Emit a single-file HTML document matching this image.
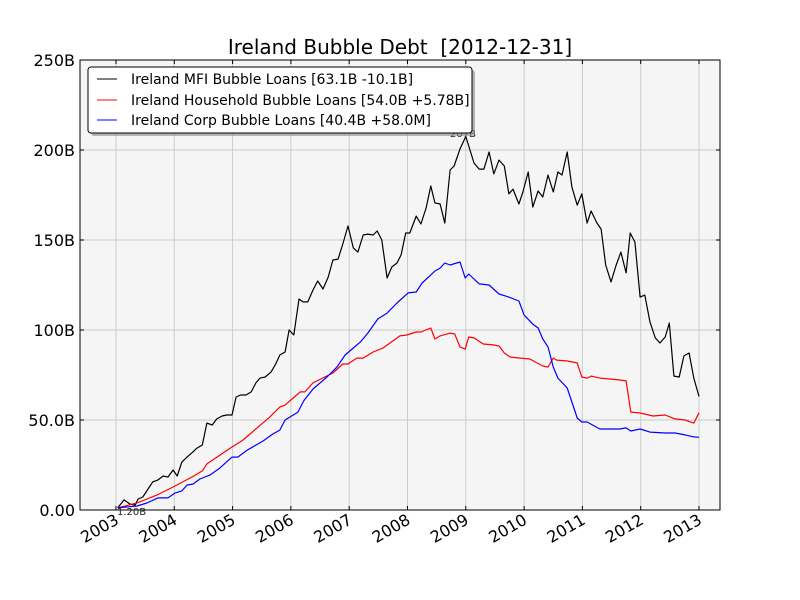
<!DOCTYPE html>
<html><head><meta charset="utf-8"><style>
body{margin:0;background:#fff;}
svg{display:block;font-family:"DejaVu Sans","Liberation Sans",sans-serif;}
</style></head><body>
<svg id="chart" width="800" height="600">
<rect x="0" y="0" width="800" height="600" fill="#fff"/>
<text x="400" y="54" font-size="20" text-anchor="middle">Ireland Bubble Debt&#160; [2012-12-31]</text>
<rect x="80" y="60" width="640" height="450" fill="#f5f5f5"/>
<g id="grid"></g><g id="series"></g>
<rect x="80" y="60" width="640" height="450" fill="none" stroke="#000" stroke-width="1"/>
<g id="ticks"></g>
<text x="450" y="137" font-size="10" fill="#222">207B</text>
<text x="117" y="515" font-size="10" fill="#222">1.20B</text>
<g>
<rect x="91" y="70" width="384" height="66" rx="3" fill="#888" opacity="0.6"/>
<rect x="88" y="67" width="384" height="66" rx="3" fill="#fff" stroke="#000" stroke-width="1"/>
<line x1="97" y1="79" x2="117" y2="79" stroke="#000"/>
<text x="131" y="84" font-size="14">Ireland MFI Bubble Loans [63.1B -10.1B]</text>
<line x1="97" y1="100" x2="117" y2="100" stroke="#f00"/>
<text x="131" y="105" font-size="14">Ireland Household Bubble Loans [54.0B +5.78B]</text>
<line x1="97" y1="120" x2="117" y2="120" stroke="#00f"/>
<text x="131" y="125" font-size="14">Ireland Corp Bubble Loans [40.4B +58.0M]</text>
</g>
</svg>
<script>
const xTicks=[2003,2004,2005,2006,2007,2008,2009,2010,2011,2012,2013];
const yTicks=[0,50,100,150,200,250];
const yTickLabels=["0.00","50.0B","100B","150B","200B","250B"];
const mfiDates=[2003.03,2003.14,2003.24,2003.33,2003.38,2003.46,2003.63,2003.72,2003.81,2003.89,2003.98,2004.05,2004.13,2004.22,2004.30,2004.39,2004.48,2004.56,2004.65,2004.73,2004.82,2004.90,2004.99,2005.06,2005.14,2005.23,2005.32,2005.40,2005.47,2005.56,2005.66,2005.74,2005.81,2005.90,2005.97,2006.05,2006.14,2006.21,2006.29,2006.38,2006.46,2006.55,2006.64,2006.72,2006.81,2006.89,2006.98,2007.07,2007.15,2007.24,2007.32,2007.41,2007.48,2007.56,2007.65,2007.73,2007.82,2007.89,2007.97,2008.04,2008.15,2008.23,2008.32,2008.40,2008.47,2008.56,2008.64,2008.73,2008.80,2008.90,2009.00,2009.14,2009.23,2009.31,2009.40,2009.48,2009.57,2009.66,2009.74,2009.81,2009.91,2009.98,2010.07,2010.15,2010.24,2010.32,2010.41,2010.50,2010.58,2010.65,2010.74,2010.82,2010.91,2010.99,2011.08,2011.15,2011.25,2011.32,2011.40,2011.49,2011.58,2011.66,2011.75,2011.82,2011.90,2011.99,2012.07,2012.16,2012.25,2012.33,2012.42,2012.49,2012.57,2012.66,2012.74,2012.83,2012.91,2013.00];
const mfiValues=[1.2,5.6,3.3,2.8,6.1,7.2,15.6,16.7,18.9,18.3,22.2,18.9,26.7,29.4,31.7,34.4,36.1,48.3,47.2,50.6,52.2,52.8,52.8,62.8,63.9,63.9,65.6,70.6,73.3,73.9,76.7,81.1,86.1,87.8,100,97.2,117.2,115.6,115.6,122.2,127.2,122.8,129.4,138.9,139.4,147.8,157.8,145.6,143.3,152.8,153.3,152.8,155,150,128.9,135,137.2,141.7,153.9,153.9,163.3,158.9,167.8,180,170.6,170,159.4,188.9,191.1,200.6,207.5,192.8,189.4,189.4,198.9,186.7,194.4,191.1,175.6,178.3,170,176.7,187.8,168.3,177.2,173.9,186.1,176.7,187.8,186.1,198.9,179.4,169.4,175.6,159.4,166.1,159.4,156.1,136.1,126.7,136.1,143.3,131.7,153.9,148.9,118.3,119.4,104.4,95.6,92.8,96.1,103.9,74.4,73.9,85.6,87.2,73.3,63.1];
const hhDates=[2003.03,2003.36,2003.70,2003.98,2004.30,2004.48,2004.56,2004.99,2005.18,2005.42,2005.64,2005.81,2005.90,2006.04,2006.16,2006.24,2006.38,2006.58,2006.72,2006.89,2006.98,2007.13,2007.24,2007.41,2007.58,2007.87,2007.99,2008.15,2008.23,2008.40,2008.47,2008.56,2008.73,2008.81,2008.90,2008.99,2009.05,2009.14,2009.30,2009.47,2009.57,2009.66,2009.76,2009.93,2010.10,2010.22,2010.32,2010.41,2010.50,2010.56,2010.74,2010.91,2010.99,2011.08,2011.15,2011.30,2011.47,2011.64,2011.75,2011.83,2011.99,2012.21,2012.42,2012.59,2012.76,2012.91,2013.00];
const hhValues=[1.2,3.9,8.3,12.8,18.3,21.7,25.6,35,38.9,45.6,51.7,57.2,58.3,62.2,65.6,65.6,70.6,73.9,76.1,81.1,81.1,84.4,84.4,87.8,90,96.7,97.2,98.9,98.9,101.1,95,96.7,98.3,97.8,90.6,89.4,96.1,95.6,92.2,91.7,91.1,87.2,85,84.4,83.9,81.7,80,79.4,84.4,83.3,82.8,81.7,73.9,73.3,74.4,73.3,72.8,72.2,71.7,54.4,53.9,52.2,52.8,50.6,50,48.3,54.0];
const corpDates=[2003.03,2003.36,2003.53,2003.72,2003.89,2004.01,2004.13,2004.22,2004.32,2004.44,2004.61,2004.78,2004.99,2005.09,2005.25,2005.52,2005.69,2005.81,2005.90,2006.12,2006.22,2006.38,2006.62,2006.79,2006.93,2007.07,2007.19,2007.32,2007.49,2007.65,2007.82,2008.01,2008.15,2008.25,2008.40,2008.47,2008.56,2008.64,2008.73,2008.90,2008.99,2009.05,2009.23,2009.40,2009.57,2009.74,2009.91,2010.00,2010.15,2010.24,2010.32,2010.41,2010.50,2010.58,2010.74,2010.82,2010.91,2010.99,2011.08,2011.30,2011.52,2011.64,2011.75,2011.83,2011.99,2012.16,2012.42,2012.59,2012.76,2012.91,2013.00];
const corpValues=[1.2,2.2,3.9,6.7,6.7,9.4,10.6,13.9,14.4,17.2,19.4,23.3,29.4,29.4,33.3,38.3,42.2,44.4,50,54.4,60.6,67.2,73.9,79.4,86.1,90,93.3,98.3,106.1,109.4,115,120.6,121.1,126.1,130.6,132.8,134.4,137.2,136.1,137.8,128.9,131.1,125.6,125,120,118.3,116.1,108.3,103.3,101.1,95,90.6,79.4,73.3,67.8,60,51.1,48.9,48.9,45,45,45,45.6,43.9,45,43.3,42.8,42.8,41.7,40.6,40.4];

const NS="http://www.w3.org/2000/svg";
const L=80,R=720,T=60,B=510;
const x0=2002.383,x1=2013.36;
const xs=d=>L+(d-x0)/(x1-x0)*(R-L);
const ys=v=>B-v/250*(B-T);
const grid=document.getElementById('grid'),ticks=document.getElementById('ticks'),ser=document.getElementById('series');
function mk(tag,attrs,parent){const e=document.createElementNS(NS,tag);for(const k in attrs)e.setAttribute(k,attrs[k]);parent.appendChild(e);return e;}
xTicks.forEach(t=>{
  const x=xs(t);
  const g=mk('line',{x1:x,x2:x,y1:T,y2:B,stroke:'#cccccc','stroke-width':1},grid);
  
  
  mk('line',{x1:x,x2:x,y1:B,y2:B-4,stroke:'#000'},ticks);
  mk('line',{x1:x,x2:x,y1:T,y2:T+4,stroke:'#000'},ticks);
  const tx=mk('text',{x:x+4,y:B+13,'font-size':16,'text-anchor':'end',transform:`rotate(-30 ${x+4} ${B+13})`},ticks);
  tx.textContent=t;
  
  
});
yTicks.forEach((t,i)=>{
  const y=ys(t);
  if(t>0&&t<250){const g=mk('line',{x1:L,x2:R,y1:y,y2:y,stroke:'#cccccc','stroke-width':1},grid);
  
  }
  mk('line',{x1:L,x2:L+4,y1:y,y2:y,stroke:'#000'},ticks);
  mk('line',{x1:R,x2:R-4,y1:y,y2:y,stroke:'#000'},ticks);
  const tx=mk('text',{x:L-5,y:y+6,'font-size':16,'text-anchor':'end'},ticks);
  tx.textContent=yTickLabels[i];
  
  
});
function line(dates,vals,color,name){
  const p=mk('polyline',{points:dates.map((d,i)=>xs(d).toFixed(1)+','+ys(vals[i]).toFixed(1)).join(' '),fill:'none',stroke:color,'stroke-width':1.2,'stroke-linejoin':'round'},ser);
  
  
}
line(mfiDates,mfiValues,'#000','mfi-line');
line(hhDates,hhValues,'#f00','household-line');
line(corpDates,corpValues,'#00f','corp-line');
</script>
</body></html>
